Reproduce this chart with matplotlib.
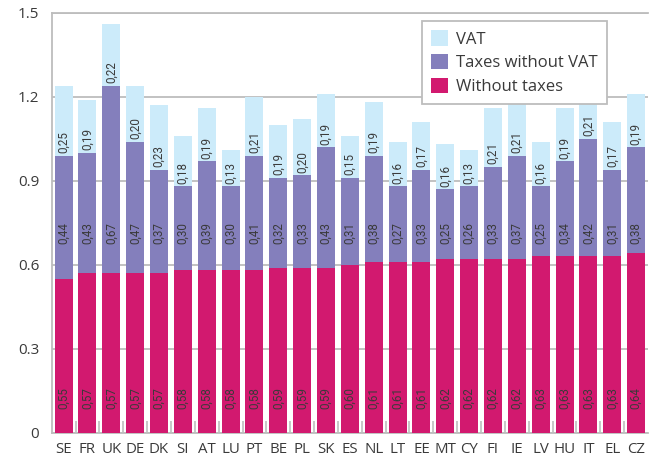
import matplotlib
matplotlib.use("Agg")
import matplotlib.pyplot as plt
from matplotlib.ticker import FixedLocator

countries = ["SE", "FR", "UK", "DE", "DK", "SI", "AT", "LU", "PT", "BE", "PL", "SK", "ES",
             "NL", "LT", "EE", "MT", "CY", "FI", "IE", "LV", "HU", "IT", "EL", "CZ"]
without_taxes = [0.55, 0.57, 0.57, 0.57, 0.57, 0.58, 0.58, 0.58, 0.58, 0.59, 0.59, 0.59, 0.60,
                 0.61, 0.61, 0.61, 0.62, 0.62, 0.62, 0.62, 0.63, 0.63, 0.63, 0.63, 0.64]
taxes_without_vat = [0.44, 0.43, 0.67, 0.47, 0.37, 0.30, 0.39, 0.30, 0.41, 0.32, 0.33, 0.43, 0.31,
                     0.38, 0.27, 0.33, 0.25, 0.26, 0.33, 0.37, 0.25, 0.34, 0.42, 0.31, 0.38]
vat = [0.25, 0.19, 0.22, 0.20, 0.23, 0.18, 0.19, 0.13, 0.21, 0.19, 0.20, 0.19, 0.15,
       0.19, 0.16, 0.17, 0.16, 0.13, 0.21, 0.21, 0.16, 0.19, 0.21, 0.17, 0.19]
y_ticks = [0, 0.3, 0.6, 0.9, 1.2, 1.5]
y_tick_labels = ["0", "0.3", "0.6", "0.9", "1.2", "1.5"]

C_BASE = "#D2196F"
C_TAX = "#847FBC"
C_VAT = "#CCEBFA"
GRID = "#BDBDBD"
TXT = "#3A3A3A"

plt.rcParams["font.family"] = ["Open Sans", "DejaVu Sans"]
value_font = ["Liberation Sans Narrow", "Roboto", "DejaVu Sans"]

fig = plt.figure(figsize=(6.5, 4.58), dpi=100)
ax = fig.add_axes([51.7 / 650, 1 - 432.7 / 458, (648 - 51.7) / 650, (432.7 - 12.7) / 458])

x = list(range(len(countries)))
w = 0.755
mid = [a + b for a, b in zip(without_taxes, taxes_without_vat)]

b1 = ax.bar(x, without_taxes, w, color=C_BASE, zorder=3, label="Without taxes")
b2 = ax.bar(x, taxes_without_vat, w, bottom=without_taxes, color=C_TAX, zorder=3,
            label="Taxes without VAT")
b3 = ax.bar(x, vat, w, bottom=mid, color=C_VAT, zorder=3, label="VAT")

def fmt(v):
    return f"{v:.2f}".replace(".", ",")

lab_kw = dict(rotation=90, ha="center", fontsize=8.4, color=TXT, family=value_font, zorder=4)
for i in x:
    ax.text(i, 0.123, fmt(without_taxes[i]), va="center", **lab_kw)
    ax.text(i, 0.714, fmt(taxes_without_vat[i]), va="center", **lab_kw)
    ax.text(i, mid[i] + 0.009, fmt(vat[i]), va="bottom", **lab_kw)

ax.set_xlim(-0.5, len(countries) - 0.5)
ax.set_ylim(0, 1.5)
ax.set_yticks(y_ticks)
ax.set_yticklabels(y_tick_labels)
ax.set_xticks(x)
ax.set_xticklabels(countries)
ax.xaxis.set_minor_locator(FixedLocator([i + 0.5 for i in x[:-1]]))

ax.tick_params(axis="y", length=0, pad=9, labelsize=11, labelcolor=TXT)
ax.tick_params(axis="x", which="major", length=0, pad=7, labelsize=10.8, labelcolor=TXT)
ax.tick_params(axis="x", which="minor", direction="in", length=9, width=1.2, color=GRID)

ax.yaxis.grid(True, color=GRID, linewidth=1.3, zorder=0)
ax.set_axisbelow(True)
ax.spines["right"].set_visible(False)
for s in ["left", "bottom", "top"]:
    ax.spines[s].set_color(GRID)
    ax.spines[s].set_linewidth(1.3)

leg = ax.legend(handles=[b3, b2, b1], loc="upper left",
                bbox_to_anchor=(421.7 / 650, 1 - 21 / 458), bbox_transform=fig.transFigure,
                borderaxespad=0, fontsize=12, frameon=True, fancybox=False, framealpha=1,
                edgecolor=GRID, borderpad=0.55, handlelength=1.05, handleheight=1.05,
                labelspacing=0.38, handletextpad=0.45)
leg.get_frame().set_linewidth(1.3)
for t in leg.get_texts():
    t.set_color(TXT)

fig.savefig("out.png", dpi=100)
